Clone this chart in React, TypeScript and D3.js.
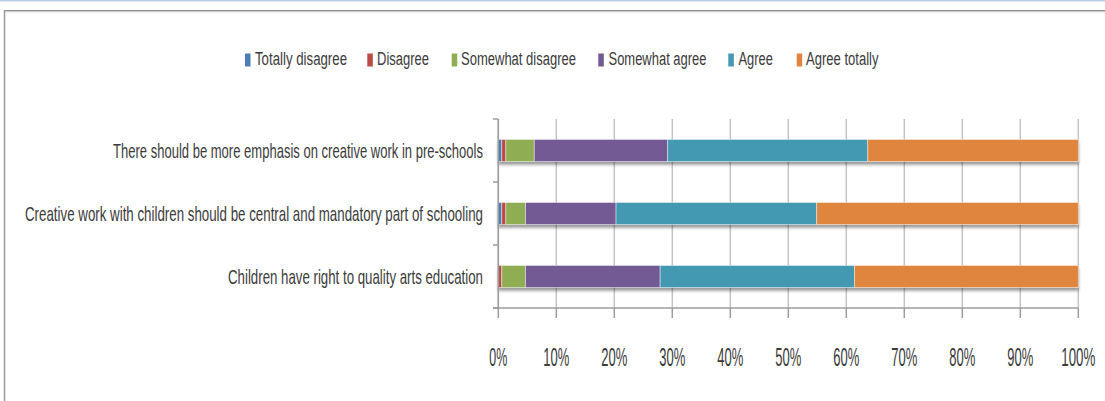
import React from "react";
import * as d3 from "d3";

const categories = [
  "There should be more emphasis on creative work in pre-schools",
  "Creative work with children should be central and mandatory part of schooling",
  "Children have right to quality arts education",
];
const seriesNames = ["Totally disagree", "Disagree", "Somewhat disagree", "Somewhat agree", "Agree", "Agree totally"];
const totallyDisagree = [0.6, 0.6, 0.0];
const disagree = [0.7, 0.7, 0.6];
const somewhatDisagree = [4.9, 3.4, 4.1];
const somewhatAgree = [23.0, 15.6, 23.2];
const agree = [34.5, 34.6, 33.5];
const agreeTotally = [36.3, 45.1, 38.6];
const tickValues = [0, 0.1, 0.2, 0.3, 0.4, 0.5, 0.6, 0.7, 0.8, 0.9, 1.0];
const colors = ["#4a7dba", "#bc4a47", "#8fae52", "#735a94", "#4399b1", "#e0853d"];

const seriesValues = [totallyDisagree, disagree, somewhatDisagree, somewhatAgree, agree, agreeTotally];

// measured widths of text in the reference (horizontally condensed rendering)
const catLabelRight = 483;
const catLabelLeft = [113, 25, 228];
const legendSquareX = [245, 367.3, 451.7, 598.3, 728.3, 796.7];
const legendTextSpan: [number, number][] = [
  [255, 347],
  [377, 429],
  [461, 576],
  [608.5, 706.5],
  [738.5, 773],
  [806, 878.5],
];

export default function App() {
  const W = 1105;
  const H = 401;
  const x = d3.scaleLinear().domain([0, 1]).range([498.3, 1078.3]);
  const y = d3.scaleBand<string>().domain(categories).range([119, 308]).paddingInner(0.65).paddingOuter(0.325);

  const rows = categories.map((c, i) => {
    const r: any = { cat: c };
    seriesNames.forEach((s, k) => (r[s] = seriesValues[k][i]));
    return r;
  });
  const stack = d3.stack<any>().keys(seriesNames).offset(d3.stackOffsetExpand);
  const stacked = stack(rows);

  const font = "'Liberation Sans Narrow', 'Liberation Sans', Arial, sans-serif";
  const textColor = "#3b3b3b";
  const plotTop = 119;
  const plotBottom = 308;

  return (
    <svg width={W} height={H} style={{ position: "absolute", left: 0, top: 0, background: "#fff" }}>
      <defs>
        <filter id="barShadow" x="-5%" y="-50%" width="110%" height="200%">
          <feDropShadow dx="0" dy="3" stdDeviation="1.8" floodColor="#000" floodOpacity="0.4" />
        </filter>
        <linearGradient id="topShade" x1="0" y1="0" x2="0" y2="1">
          <stop offset="0" stopColor="#8c8c8c" />
          <stop offset="1" stopColor="#ffffff" stopOpacity="0" />
        </linearGradient>
      </defs>
      <rect x={0} y={0} width={W} height={H} fill="#fff" />
      {/* top thin blue line */}
      <rect x={0} y={0} width={W} height={1.5} fill="#b9cde4" />
      {/* frame */}
      <rect x={4} y={10} width={W} height={4} fill="url(#topShade)" />
      <line x1={4} y1={10.5} x2={W} y2={10.5} stroke="#8a8a8a" strokeWidth={1} />
      <line x1={4.5} y1={10} x2={4.5} y2={H} stroke="#9a9a9a" strokeWidth={1.5} />

      {/* legend */}
      {seriesNames.map((s, i) => (
        <g key={s}>
          <rect x={legendSquareX[i]} y={53.5} width={5.5} height={13} fill={colors[i]} />
          <text
            x={legendTextSpan[i][0]}
            y={65}
            fontFamily={font}
            fontSize={18}
            fill={textColor}
            textLength={legendTextSpan[i][1] - legendTextSpan[i][0]}
            lengthAdjust="spacingAndGlyphs"
          >
            {s}
          </text>
        </g>
      ))}

      {/* gridlines */}
      {tickValues.map((t) => (
        <line key={"g" + t} x1={x(t)} x2={x(t)} y1={plotTop} y2={plotBottom} stroke="#c4c4c4" strokeWidth={1.5} />
      ))}

      {/* bars */}
      {categories.map((c, i) => (
        <g key={c} filter="url(#barShadow)">
          {stacked.map((layer, k) => {
            const d = layer[i];
            const w = x(d[1]) - x(d[0]);
            if (w <= 0.01) return null;
            return (
              <rect
                key={k}
                x={x(d[0])}
                y={y(c)!}
                width={w}
                height={y.bandwidth()}
                fill={colors[k]}
                stroke="#ffffff"
                strokeOpacity={0.55}
                strokeWidth={0.8}
              />
            );
          })}
        </g>
      ))}

      {/* axes */}
      <line x1={498.3} x2={498.3} y1={plotTop} y2={plotBottom} stroke="#9c9c9c" strokeWidth={1.5} />
      {[0, 1, 2, 3].map((i) => {
        const yy = plotTop + i * y.step();
        return <line key={"yt" + i} x1={493} x2={498.3} y1={yy} y2={yy} stroke="#9c9c9c" strokeWidth={1.5} />;
      })}
      <line x1={493} x2={1078.3} y1={plotBottom} y2={plotBottom} stroke="#9c9c9c" strokeWidth={1.5} />
      {tickValues.map((t) => (
        <line key={"xt" + t} x1={x(t)} x2={x(t)} y1={plotBottom} y2={318} stroke="#9c9c9c" strokeWidth={1.5} />
      ))}

      {/* x tick labels */}
      {tickValues.map((t) => {
        const label = d3.format(".0%")(t);
        const len = 8 * (label.length - 1) + 10;
        return (
          <text
            key={"xl" + t}
            x={x(t)}
            y={366}
            textAnchor="middle"
            fontFamily={font}
            fontSize={25}
            fill={textColor}
            textLength={len}
            lengthAdjust="spacingAndGlyphs"
          >
            {label}
          </text>
        );
      })}

      {/* category labels */}
      {categories.map((c, i) => (
        <text
          key={"cl" + i}
          x={catLabelLeft[i]}
          y={y(c)! + y.bandwidth() / 2 + 7}
          fontFamily={font}
          fontSize={21}
          fill={textColor}
          textLength={catLabelRight - catLabelLeft[i]}
          lengthAdjust="spacingAndGlyphs"
        >
          {c}
        </text>
      ))}
    </svg>
  );
}
